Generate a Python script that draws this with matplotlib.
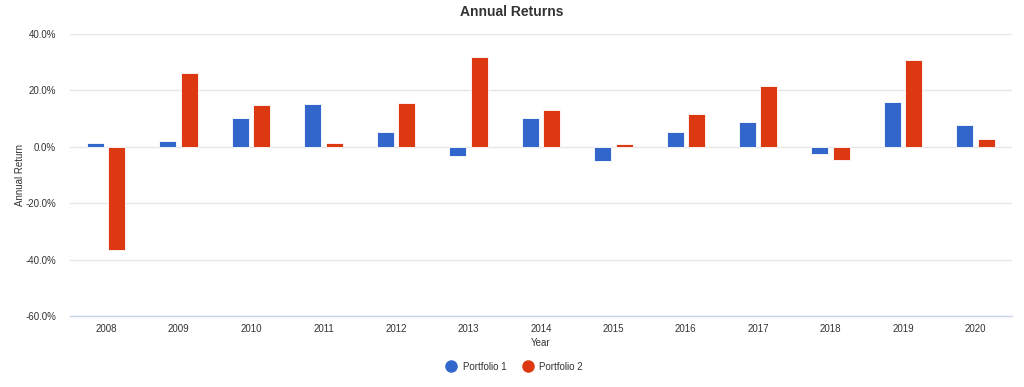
import numpy as np
import matplotlib.pyplot as plt
from matplotlib.lines import Line2D

plt.rcParams['font.family'] = ['Liberation Sans', 'DejaVu Sans']

# Dados
anos = ['2008', '2009', '2010', '2011', '2012', '2013', '2014',
        '2015', '2016', '2017', '2018', '2019', '2020']
portfolio1 = [1.3, 2.1, 10.3, 15.1, 5.2, -3.1, 10.3, -5.1, 5.4, 8.7, -2.6, 15.9, 7.9]
portfolio2 = [-36.6, 26.2, 14.9, 1.5, 15.6, 31.9, 13.2, 1.1, 11.7, 21.5, -4.6, 30.8, 2.7]
yticks = [-60, -40, -20, 0, 20, 40]

azul = '#3366cc'
vermelho = '#dc3912'

fig = plt.figure(figsize=(10.24, 3.87), dpi=100)
ax = fig.add_axes([0.0684, 0.1835, 0.9196, 0.7285])

x = np.arange(len(anos))
largura = 0.235
desloc = 0.148
ax.bar(x - desloc, portfolio1, largura, color=azul, edgecolor='#ffffff',
       linewidth=0.6, zorder=3)
ax.bar(x + desloc, portfolio2, largura, color=vermelho, edgecolor='#ffffff',
       linewidth=0.6, zorder=3)

ax.set_xlim(-0.5, len(anos) - 0.5)
ax.set_ylim(-60, 40)
ax.set_yticks(yticks)
ax.set_yticklabels([f'{v:.1f}%' for v in yticks])
ax.set_xticks(x)
ax.set_xticklabels(anos)

ax.grid(axis='y', color='#e6e6e6', linewidth=1, zorder=0)
ax.tick_params(axis='x', length=0, labelsize=7, colors='#333333', pad=6)
ax.tick_params(axis='y', length=0, labelsize=7, colors='#333333', pad=10)
for lado in ['top', 'right', 'left']:
    ax.spines[lado].set_visible(False)
ax.spines['bottom'].set_color('#ccd6eb')
ax.spines['bottom'].set_linewidth(1)
ax.spines['bottom'].set_zorder(4)

fig.text(0.5, 1 - 12 / 387, 'Annual Returns', ha='center', va='center',
         fontsize=10, fontweight='bold', color='#333333')
ax.set_xlabel('Year', fontsize=7, color='#333333', labelpad=3)
ax.set_ylabel('Annual Return', fontsize=7, color='#333333', labelpad=0)

marcas = [Line2D([0], [0], marker='o', linestyle='', color=azul, markersize=8),
          Line2D([0], [0], marker='o', linestyle='', color=vermelho, markersize=8)]
fig.legend(marcas, ['Portfolio 1', 'Portfolio 2'], loc='center',
           bbox_to_anchor=(0.5, 0.052), ncol=2, frameon=False, fontsize=7,
           handletextpad=0.2, columnspacing=1.2, labelcolor='#333333')

plt.savefig('out.png')
